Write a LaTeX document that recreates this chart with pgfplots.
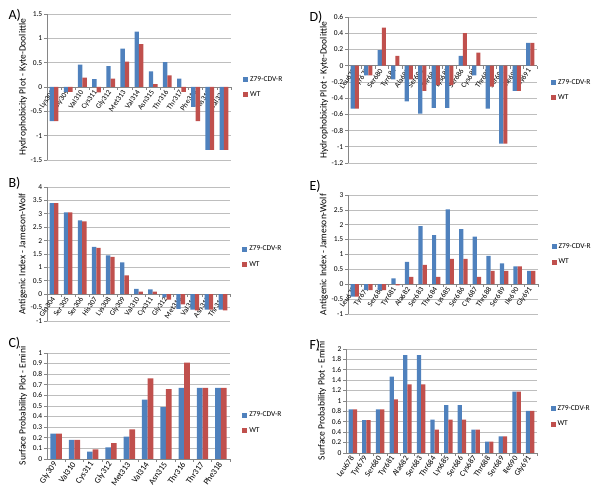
\documentclass[border=0pt]{standalone}
\usepackage{fontspec}
\setmainfont{Carlito}
\usepackage{pgfplots}
\pgfplotsset{compat=1.18}
\definecolor{zblue}{RGB}{79,129,189}
\definecolor{wtred}{RGB}{192,80,77}
\definecolor{axgray}{RGB}{134,134,134}
\definecolor{gridgray}{RGB}{190,190,190}
\newcommand{\smallf}{\fontsize{7.5}{9}\selectfont}
\newcommand{\labf}{\fontsize{9.5}{11}\selectfont}
\newcommand{\bigf}{\fontsize{14}{16}\selectfont}

\pgfplotsset{
  panel/.style={
    scale only axis,
    anchor=north west,
    axis y line*=left,
    ymajorgrids,
    grid style={gridgray, line width=0.6pt},
    axis line style={axgray, line width=0.6pt},
    tick style={axgray, line width=0.6pt},
    tick align=outside,
    major tick length=3pt,
    minor tick length=3pt,
    major x tick style={draw=none},
    hide obscured x ticks=false,
    hide obscured y ticks=false,
    xtick=data,
    xticklabel style={rotate=55, anchor=east, inner sep=1pt},
    yticklabel style={/pgf/number format/fixed, /pgf/number format/assume math mode=true, inner sep=1.5pt},
    every tick label/.append style={font=\smallf},
    every axis y label/.style={at={(axis description cs:0,0.5)}, xshift=-24pt, rotate=90, anchor=center, font=\labf},
    legend style={draw=none, fill=none, inner sep=0pt, row sep=5pt, font=\smallf, anchor=west},
    legend cell align=left,
    legend image code/.code={\fill[##1] (0pt,-2.5pt) rectangle (5pt,2.5pt);},
  },
  zb/.style={ybar, bar width=0.31, bar shift=-0.155, fill=zblue, draw=none},
  wb/.style={ybar, bar width=0.31, bar shift=0.155, fill=wtred, draw=none},
}

\begin{document}
\begin{tikzpicture}[x=1pt,y=1pt]
\useasboundingbox (0,0) rectangle (600,494);

% A) hydrophobicity, region 308-320
\begin{axis}[panel, at={(47pt,480pt)}, width=184pt, height=146pt,
  axis x line*=middle,
  xmin=-0.5, xmax=12.5, ymin=-1.5, ymax=1.5,
  ytick={-1.5,-1,-0.5,0,0.5,1,1.5},
  minor xtick={0.5,1.5,...,12.5},
  xticklabels={Lys308,Gly309,Val310,Cys311,Gly312,Met313,Val314,Asn315,Thr316,Thr317,Phe318,His319,Val320},
  ylabel={Hydrophobicity Plot - Kyte-Doolittle},
  legend style={at={(1.065,0.5)}}]
\addplot[zb] coordinates {(0,-0.70) (1,-0.10) (2,0.46) (3,0.16) (4,0.43) (5,0.79) (6,1.14) (7,0.32) (8,0.51) (9,0.17) (10,-0.41) (11,-1.29) (12,-1.29)};
\addplot[wb] coordinates {(0,-0.70) (1,-0.10) (2,0.19) (3,-0.11) (4,0.17) (5,0.52) (6,0.88) (7,0.06) (8,0.24) (9,-0.10) (10,-0.70) (11,-1.29) (12,-1.29)};
\legend{Z79-CDV-R,WT}
\end{axis}

% B) antigenic index, region 304-316
\begin{axis}[panel, at={(47pt,307pt)}, width=183pt, height=134pt,
  axis x line*=middle,
  xmin=-0.5, xmax=12.5, ymin=-1, ymax=4,
  ytick={-1,-0.5,0,0.5,1,1.5,2,2.5,3,3.5,4},
  minor xtick={0.5,1.5,...,12.5},
  xticklabels={Gln304,Ser305,Ser306,His307,Lys308,Gly309,Val310,Cys311,Gly312,Met313,Val314,Asn315,Thr316},
  ylabel={Antigenic Index - Jameson-Wolf},
  legend style={at={(1.066,0.48)}}]
\addplot[zb] coordinates {(0,3.40) (1,3.05) (2,2.75) (3,1.77) (4,1.45) (5,1.19) (6,0.20) (7,0.18) (8,-0.12) (9,-0.55) (10,-0.58) (11,-0.58) (12,-0.58)};
\addplot[wb] coordinates {(0,3.40) (1,3.05) (2,2.72) (3,1.73) (4,1.39) (5,0.70) (6,0.10) (7,0.10) (8,-0.20) (9,-0.38) (10,-0.60) (11,-0.58) (12,-0.60)};
\legend{Z79-CDV-R,WT}
\end{axis}

% C) surface probability, region 309-318
\begin{axis}[panel, at={(47pt,141pt)}, width=183pt, height=106pt,
  axis x line*=bottom,
  xmin=-0.5, xmax=9.5, ymin=0, ymax=1,
  ytick={0,0.1,0.2,0.3,0.4,0.5,0.6,0.7,0.8,0.9,1},
  minor xtick={0.5,1.5,...,9.5},
  xticklabels={Gly309,Val310,Cys311,Gly312,Met313,Val314,Asn315,Thr316,Thr317,Phe318},
  xticklabel style={font=\fontsize{8.5}{10}\selectfont},
  ylabel={Surface Probability Plot - Emini},
  legend style={at={(1.066,0.34)}}]
\addplot[zb] coordinates {(0,0.24) (1,0.18) (2,0.07) (3,0.11) (4,0.21) (5,0.56) (6,0.49) (7,0.67) (8,0.67) (9,0.67)};
\addplot[wb] coordinates {(0,0.24) (1,0.18) (2,0.09) (3,0.15) (4,0.28) (5,0.76) (6,0.66) (7,0.91) (8,0.67) (9,0.67)};
\legend{Z79-CDV-R,WT}
\end{axis}

% D) hydrophobicity, region 678-691
\begin{axis}[panel, at={(348pt,477pt)}, width=189pt, height=146pt,
  axis x line*=middle,
  xmin=-0.5, xmax=13.5, ymin=-1.2, ymax=0.6,
  ytick={-1.2,-1,-0.8,-0.6,-0.4,-0.2,0,0.2,0.4,0.6},
  minor xtick={0.5,1.5,...,13.5},
  xticklabels={Leu678,Tyr679,Ser680,Tyr681,Ala682,Ser683,Thr684,Lys685,Ser686,Cys687,Thr688,Ser689,Ile690,Gly691},
  ylabel={Hydrophobicity Plot - Kyte-Doolittle},
  legend style={at={(1.074,0.5)}}]
\addplot[zb] coordinates {(0,-0.53) (1,-0.12) (2,0.19) (3,-0.17) (4,-0.44) (5,-0.59) (6,-0.52) (7,-0.52) (8,0.12) (9,-0.12) (10,-0.53) (11,-0.96) (12,-0.31) (13,0.28)};
\addplot[wb] coordinates {(0,-0.53) (1,-0.12) (2,0.47) (3,0.12) (4,-0.17) (5,-0.31) (6,-0.24) (7,-0.24) (8,0.40) (9,0.16) (10,-0.26) (11,-0.96) (12,-0.31) (13,0.28)};
\legend{Z79-CDV-R,WT}
\end{axis}

% E) antigenic index, region 678-691
\begin{axis}[panel, at={(348pt,299pt)}, width=190pt, height=119pt,
  axis x line*=middle,
  xmin=-0.5, xmax=13.5, ymin=-1, ymax=3,
  ytick={-1,-0.5,0,0.5,1,1.5,2,2.5,3},
  minor xtick={0.5,1.5,...,13.5},
  xticklabels={Leu678,Tyr679,Ser680,Tyr681,Ala682,Ser683,Thr684,Lys685,Ser686,Cys687,Thr688,Ser689,Ile690,Gly691},
  ylabel={Antigenic Index - Jameson-Wolf},
  legend style={at={(1.07,0.5)}}]
\addplot[zb] coordinates {(0,-0.42) (1,-0.20) (2,-0.20) (3,0.20) (4,0.75) (5,1.95) (6,1.65) (7,2.52) (8,1.85) (9,1.60) (10,0.95) (11,0.70) (12,0.60) (13,0.45)};
\addplot[wb] coordinates {(0,-0.42) (1,-0.20) (2,-0.20) (3,-0.04) (4,0.25) (5,0.65) (6,0.25) (7,0.85) (8,0.85) (9,0.25) (10,0.45) (11,0.45) (12,0.60) (13,0.45)};
\legend{Z79-CDV-R,WT}
\end{axis}

% F) surface probability, region 678-691
\begin{axis}[panel, at={(346pt,145pt)}, width=191pt, height=104pt,
  axis x line*=bottom,
  xmin=-0.5, xmax=13.5, ymin=0, ymax=2,
  ytick={0,0.2,0.4,0.6,0.8,1,1.2,1.4,1.6,1.8,2},
  minor xtick={0.5,1.5,...,13.5},
  xticklabels={Leu678,Tyr679,Ser680,Tyr681,Ala682,Ser683,Thr684,Lys685,Ser686,Cys687,Thr688,Ser689,Ile690,Gly691},
  xticklabel style={font=\fontsize{8}{10}\selectfont},
  ylabel={Surface Probability Plot - Emini},
  legend style={at={(1.07,0.35)}}]
\addplot[zb] coordinates {(0,0.84) (1,0.63) (2,0.84) (3,1.47) (4,1.88) (5,1.88) (6,0.64) (7,0.92) (8,0.92) (9,0.45) (10,0.22) (11,0.32) (12,1.18) (13,0.81)};
\addplot[wb] coordinates {(0,0.84) (1,0.63) (2,0.84) (3,1.03) (4,1.32) (5,1.32) (6,0.45) (7,0.64) (8,0.64) (9,0.45) (10,0.22) (11,0.32) (12,1.18) (13,0.81)};
\legend{Z79-CDV-R,WT}
\end{axis}

\node[anchor=west, font=\bigf] at (5,479) {A)};
\node[anchor=west, font=\bigf] at (5,311) {B)};
\node[anchor=west, font=\bigf] at (5,151) {C)};
\node[anchor=west, font=\bigf] at (306,477) {D)};
\node[anchor=west, font=\bigf] at (306,308) {E)};
\node[anchor=west, font=\bigf] at (306,149) {F)};
\end{tikzpicture}
\end{document}
